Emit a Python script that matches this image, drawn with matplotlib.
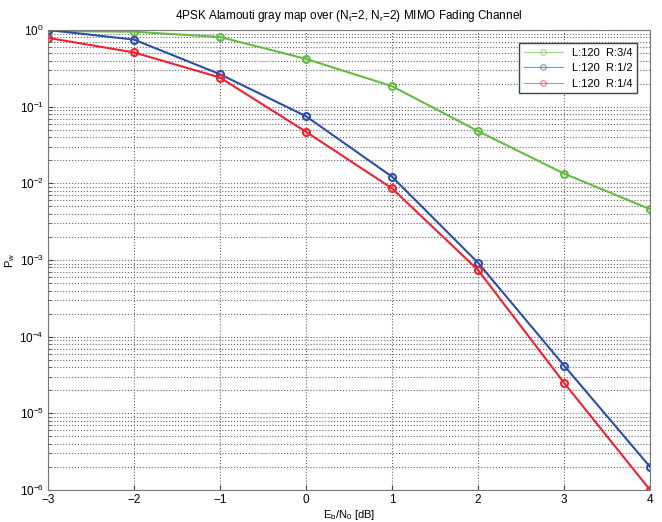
import matplotlib
matplotlib.use("Agg")
import matplotlib.pyplot as plt
from matplotlib.ticker import LogLocator, NullFormatter

plt.rcParams["font.family"] = ["Liberation Sans", "DejaVu Sans"]
plt.rcParams["mathtext.fontset"] = "custom"
plt.rcParams["mathtext.rm"] = "Liberation Sans"
plt.rcParams["mathtext.it"] = "Liberation Sans"

ebn0 = [-3, -2, -1, 0, 1, 2, 3, 4]
pw_r34 = [0.97, 0.95, 0.81, 0.42, 0.185, 0.048, 0.0134, 0.0046]
pw_r12 = [1.0, 0.75, 0.265, 0.075, 0.0122, 0.00092, 4.2e-5, 2.0e-6]
pw_r14 = [0.79, 0.51, 0.24, 0.047, 0.0086, 0.00074, 2.5e-5, 1.0e-6]

fig = plt.figure(figsize=(6.62, 5.22), dpi=100)
ax = fig.add_axes([0.0725, 0.0613, 0.9095, 0.8812])

ax.semilogy(ebn0, pw_r34, "-o", color="#66bb44", mfc="none", ms=5, lw=1.5, mew=1.5, label="L:120  R:3/4")
ax.semilogy(ebn0, pw_r12, "-o", color="#2a4fa8", mfc="none", ms=5, lw=1.5, mew=1.5, label="L:120  R:1/2")
ax.semilogy(ebn0, pw_r14, "-o", color="#ee2233", mfc="none", ms=5, lw=1.5, mew=1.5, label="L:120  R:1/4")

ax.set_xlim(-3, 4)
ax.set_ylim(1e-6, 1)
ax.set_xticks(ebn0)
ax.yaxis.set_major_locator(LogLocator(base=10, numticks=10))
ax.yaxis.set_minor_locator(LogLocator(base=10, subs=range(2, 10), numticks=20))
ax.yaxis.set_minor_formatter(NullFormatter())
ax.grid(True, which="major", linestyle=":", color="#666666", lw=0.8)
ax.grid(True, which="minor", axis="y", linestyle=":", color="#666666", lw=0.8)
ax.tick_params(labelsize=8.5, direction="in", which="both", colors="#444444", labelcolor="black", pad=3)
for s in ax.spines.values():
    s.set_color("#777777")

ax.set_title(r"4PSK Alamouti gray map over (N$_t$=2, N$_r$=2) MIMO Fading Channel", fontsize=8.5, pad=8)
ax.set_xlabel(r"E$_b$/N$_0$ [dB]", fontsize=8, labelpad=1)
ax.set_ylabel(r"P$_w$", fontsize=8, labelpad=2)

leg = ax.legend(loc="upper right", fontsize=8, fancybox=False, framealpha=1, edgecolor="#444444",
                handlelength=3.5, borderaxespad=1.2)
for h in leg.get_lines():
    h.set_linewidth(0.8)
    h.set_markersize(4)
    h.set_markeredgewidth(0.8)
    h.set_alpha(0.6)

fig.savefig("out.png", dpi=100)
